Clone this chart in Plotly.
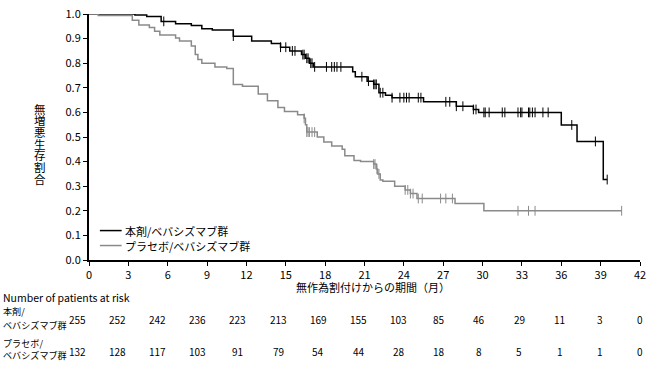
import numpy as np
import plotly.graph_objects as go

FONT = "Noto Sans CJK JP"

# ---- data ----
arm_names = ["本剤/ベバシズマブ群", "プラセボ/ベバシズマブ群"]

times_a = [0, 3.5, 4.4, 5.5, 6.6, 7.8, 8.6, 9.4, 11.0, 12.4, 13.9, 14.6, 15.3, 16.2, 16.5, 16.8, 17.1,
           20.1, 20.3, 21.2, 21.7, 22.1, 22.6, 23.1, 25.5, 28.0, 29.3, 29.7, 36.0, 37.2, 39.2, 39.5]
surv_a = [1.0, 0.996, 0.99, 0.97, 0.96, 0.953, 0.94, 0.935, 0.91, 0.89, 0.88, 0.865, 0.85, 0.835, 0.82, 0.80, 0.785,
          0.765, 0.745, 0.727, 0.714, 0.68, 0.67, 0.66, 0.643, 0.625, 0.612, 0.60, 0.549, 0.482, 0.327, 0.327]
censor_a = [5.7, 11.0, 14.6, 15.0, 15.5, 15.7, 16.3, 16.4, 16.6, 16.7, 16.9, 17.0, 17.2, 18.1, 18.5, 18.7, 18.9, 19.2,
            20.8, 21.3, 21.7, 21.8, 21.9, 22.2, 22.4, 23.1, 23.7, 24.0, 24.2, 24.4, 25.1, 25.3, 27.2, 27.5, 28.0,
            28.5, 29.3, 29.5, 30.1, 30.2, 30.5, 31.5, 31.7, 32.7, 32.9, 33.0, 33.5, 33.6, 33.8, 34.0, 34.6, 35.0,
            36.8, 38.6, 39.5]

times_b = [0, 0.7, 3.3, 3.8, 4.6, 5.0, 5.4, 6.6, 6.9, 7.8, 8.1, 8.3, 8.6, 9.6, 10.5, 11.0, 11.7, 12.9, 13.6,
           14.4, 14.9, 15.9, 16.4, 16.5, 16.6, 17.4, 17.9, 18.5, 19.3, 19.5, 20.2, 20.7, 21.7, 21.9, 22.0, 22.2,
           22.4, 23.3, 24.1, 24.5, 25.0, 27.9, 30.1, 40.6]
surv_b = [1.0, 0.994, 0.975, 0.955, 0.945, 0.93, 0.915, 0.902, 0.89, 0.87, 0.835, 0.815, 0.80, 0.785, 0.778,
          0.713, 0.706, 0.675, 0.647, 0.62, 0.604, 0.59, 0.576, 0.55, 0.52, 0.50, 0.48, 0.463, 0.45, 0.424,
          0.404, 0.40, 0.39, 0.37, 0.35, 0.325, 0.32, 0.30, 0.285, 0.27, 0.25, 0.23, 0.20, 0.20]
censor_b = [16.4, 16.6, 16.7, 16.8, 17.0, 17.2, 21.7, 21.8, 21.95, 22.1, 24.1, 24.3, 24.5, 24.7, 25.1, 25.4,
            26.8, 27.2, 27.7, 32.7, 33.5, 34.0, 40.6]

risk_months = [0, 3, 6, 9, 12, 15, 18, 21, 24, 27, 30, 33, 36, 39, 42]
risk_a = [255, 252, 242, 236, 223, 213, 169, 155, 103, 85, 46, 29, 11, 3, 0]
risk_b = [132, 128, 117, 103, 91, 79, 54, 44, 28, 18, 8, 5, 1, 1, 0]

x_ticks = list(range(0, 43, 3))
y_ticks = [round(0.1 * i, 1) for i in range(11)]
y_title = "無増悪生存割合"
x_title = "無作為割付けからの期間（月）"

colors = ["#000000", "#8a8a8a"]


def step_value(times, surv, t):
    idx = np.searchsorted(np.array(times), t, side="right") - 1
    return surv[max(idx, 0)]


fig = go.Figure()
for name, t, s, col in [(arm_names[0], times_a, surv_a, colors[0]),
                        (arm_names[1], times_b, surv_b, colors[1])]:
    fig.add_trace(go.Scatter(x=t, y=s, mode="lines", line=dict(color=col, width=1.5, shape="hv"),
                             name=name, showlegend=False))
for t, s, c, col in [(times_a, surv_a, censor_a, colors[0]), (times_b, surv_b, censor_b, colors[1])]:
    fig.add_trace(go.Scatter(x=c, y=[step_value(t, s, v) for v in c], mode="markers",
                             marker=dict(symbol="line-ns-open", size=7, color=col,
                                         line=dict(color=col, width=1)),
                             showlegend=False, hoverinfo="skip"))

PL, PR, PT, PB = 89, 646, 5, 260
W, H = 651, 365
ph = PB - PT


def py(pix):
    return (PB - pix) / ph


def px(pix):
    return (pix - PL) / (PR - PL)


ann = []
shapes = []
# vertical y-axis title, stacked upright characters
for i, ch in enumerate(y_title):
    ann.append(dict(text=ch, x=px(39), y=py(103 + i * 12.1), xref="paper", yref="paper",
                    showarrow=False, font=dict(size=11.5, color="black", family=FONT),
                    xanchor="center", yanchor="middle"))
ann.append(dict(text=x_title, x=px(376), y=py(288), xref="paper", yref="paper", showarrow=False,
                font=dict(size=11, color="black", family=FONT), xanchor="center", yanchor="middle"))
ann.append(dict(text="Number of patients at risk", x=px(0), y=py(299), xref="paper", yref="paper",
                showarrow=False, font=dict(size=10.5, color="black", family=FONT), xanchor="left",
                yanchor="middle"))
for lab, yy in [("本剤/", 313), ("ベバシズマブ群", 327), ("プラセボ/", 346), ("ベバシズマブ群", 358)]:
    ann.append(dict(text=lab, x=px(0), y=py(yy), xref="paper", yref="paper", showarrow=False,
                    font=dict(size=9.1, color="black", family=FONT), xanchor="left", yanchor="middle"))
for vals, yy in [(risk_a, 322), (risk_b, 355)]:
    for m, v in zip(risk_months, vals):
        ann.append(dict(text=str(v), x=m, y=py(yy), xref="x", yref="paper", showarrow=False,
                        xshift=-12 * (1 - m / 42), font=dict(size=10, color="black", family=FONT),
                        xanchor="center", yanchor="middle"))

# legend drawn inside the plot (line sample + label)
for name, col, yy in [(arm_names[0], colors[0], 229.5), (arm_names[1], colors[1], 245)]:
    shapes.append(dict(type="line", xref="paper", yref="paper", x0=px(100), x1=px(122),
                       y0=py(yy), y1=py(yy), line=dict(color=col, width=1.5)))
    ann.append(dict(text=name, x=px(123), y=py(yy), xref="paper", yref="paper", showarrow=False,
                    font=dict(size=11, color="black", family=FONT), xanchor="left", yanchor="middle"))

fig.update_layout(
    width=W, height=H,
    margin=dict(l=PL, r=W - PR, t=PT, b=H - PB, pad=0),
    paper_bgcolor="white", plot_bgcolor="white",
    font=dict(family=FONT, size=11, color="black"),
    xaxis=dict(range=[0, 42], tickvals=x_ticks, ticks="outside", ticklen=4, tickwidth=1,
               tickcolor="black", showline=True, linecolor="black", linewidth=1.5, showgrid=False,
               zeroline=False, tickfont=dict(size=11, family=FONT, color="black"),
               ticklabeloverflow="allow"),
    yaxis=dict(range=[0, 1], tickvals=y_ticks, tickformat=".1f", ticks="outside", ticklen=4,
               tickwidth=1, tickcolor="black", showline=True, linecolor="black", linewidth=2,
               showgrid=False, zeroline=False, tickfont=dict(size=11, family=FONT, color="black"),
               ticklabeloverflow="allow"),
    annotations=ann,
    shapes=shapes,
    showlegend=False,
)

fig.write_html("out.html", config={"displayModeBar": False},
               post_script="document.body.style.margin='0';document.body.style.overflow='hidden';")
